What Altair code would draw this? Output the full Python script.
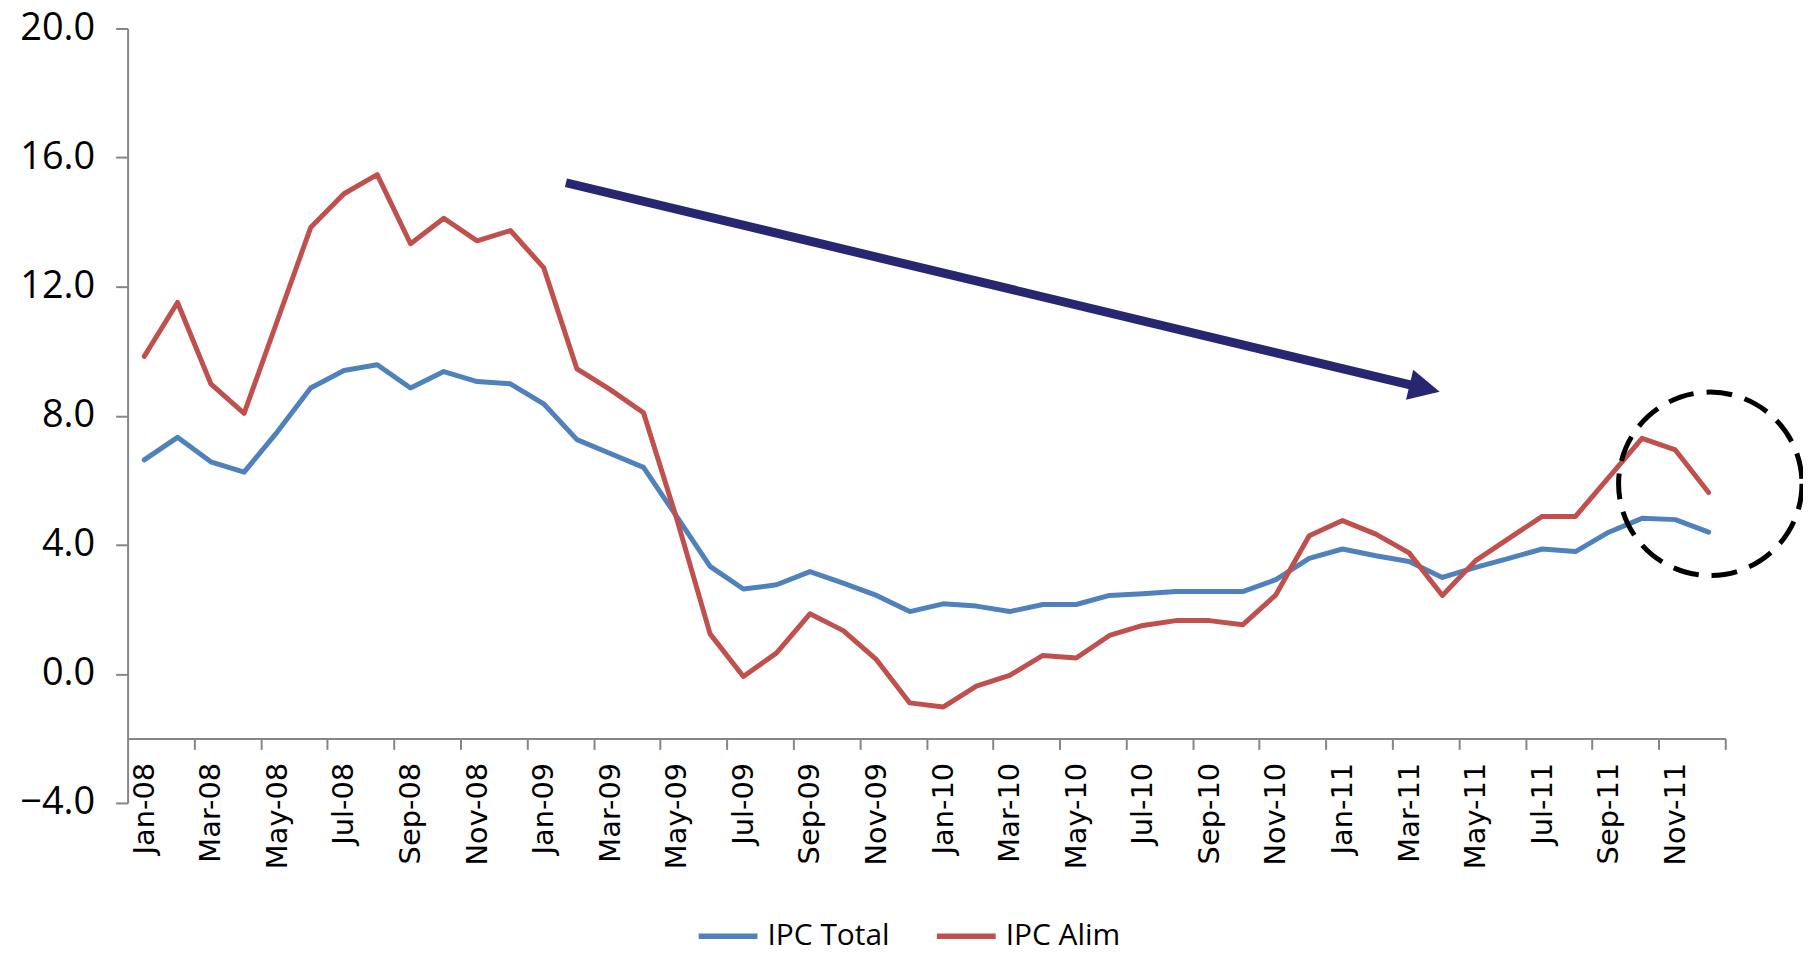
import json
import altair as alt
import pandas as pd

# ---------------- data ----------------
months = [
    "Jan-08", "Feb-08", "Mar-08", "Apr-08", "May-08", "Jun-08", "Jul-08", "Aug-08", "Sep-08", "Oct-08", "Nov-08", "Dec-08",
    "Jan-09", "Feb-09", "Mar-09", "Apr-09", "May-09", "Jun-09", "Jul-09", "Aug-09", "Sep-09", "Oct-09", "Nov-09", "Dec-09",
    "Jan-10", "Feb-10", "Mar-10", "Apr-10", "May-10", "Jun-10", "Jul-10", "Aug-10", "Sep-10", "Oct-10", "Nov-10", "Dec-10",
    "Jan-11", "Feb-11", "Mar-11", "Apr-11", "May-11", "Jun-11", "Jul-11", "Aug-11", "Sep-11", "Oct-11", "Nov-11", "Dec-11",
]
ipc_total = [
    6.63, 7.33, 6.57, 6.25, 7.50, 8.86, 9.40, 9.58, 8.86, 9.37, 9.06, 8.99,
    8.37, 7.26, 6.83, 6.40, 4.87, 3.33, 2.63, 2.76, 3.17, 2.81, 2.43, 1.93,
    2.17, 2.10, 1.93, 2.15, 2.15, 2.43, 2.48, 2.55, 2.55, 2.55, 2.92, 3.58,
    3.87, 3.66, 3.48, 2.99, 3.30, 3.58, 3.87, 3.79, 4.39, 4.82, 4.78, 4.39,
]
ipc_alim = [
    9.84, 11.51, 8.99, 8.07, 10.95, 13.83, 14.88, 15.47, 13.33, 14.12, 13.42, 13.74,
    12.59, 9.45, 8.81, 8.09, 4.80, 1.24, -0.08, 0.65, 1.86, 1.34, 0.44, -0.90,
    -1.03, -0.38, -0.05, 0.57, 0.49, 1.19, 1.50, 1.65, 1.65, 1.52, 2.45, 4.28,
    4.75, 4.33, 3.75, 2.43, 3.51, 4.20, 4.88, 4.88, 6.09, 7.30, 6.94, 5.62,
]
series_names = ["IPC Total", "IPC Alim"]
series_colors = ["#4F81BD", "#C0504D"]
y_ticks = [-4, 0, 4, 8, 12, 16, 20]

# annotation positions (in data units: month index, percent)
arrow_shaft_x = [12.67, 38.10]
arrow_shaft_y = [15.22, 8.94]
arrow_tip_x = [38.92]
arrow_tip_y = [8.74]
circle_x = [47.05]
circle_y = [5.89]

# ---------------- tables ----------------
rows = []
for i, m in enumerate(months):
    rows.append({"idx": i, "month": m, "series": series_names[0], "value": ipc_total[i]})
for i, m in enumerate(months):
    rows.append({"idx": i, "month": m, "series": series_names[1], "value": ipc_alim[i]})
df = pd.DataFrame(rows)

shaft_df = pd.DataFrame({"x": [arrow_shaft_x[0]], "y": [arrow_shaft_y[0]],
                         "x2": [arrow_shaft_x[1]], "y2": [arrow_shaft_y[1]]})
tip_df = pd.DataFrame({"x": arrow_tip_x, "y": arrow_tip_y})
circle_df = pd.DataFrame({"x": circle_x, "y": circle_y})

# ---------------- scales & axes ----------------
W, H = 1603, 777
AXIS_GREY = "#868686"
ARROW = "#262671"

x_scale = alt.Scale(domain=[-0.5, len(months) - 0.5], nice=False, zero=False)
y_scale = alt.Scale(domain=[-4, 20], nice=False, zero=False)

label_values = list(range(0, len(months), 2))
tick_values = [i + 1.5 for i in range(0, len(months) - 1, 2)]
axis_values = sorted(label_values + tick_values)
label_expr = "datum.value % 1 == 0 ? " + json.dumps(months) + "[datum.value] : ''"

x_axis = alt.Axis(
    values=axis_values, labelExpr=label_expr, labelAngle=-90,
    labelFont="DejaVu Sans", labelFontSize=29, labelColor="black",
    labelPadding=13, labelOverlap=False, labelFlush=False, labelBound=False,
    tickSize=11, tickWidth=2, tickColor=AXIS_GREY,
    tickOpacity={"condition": {"test": "datum.value % 1 != 0", "value": 1}, "value": 0},
    domainColor=AXIS_GREY, domainWidth=2, grid=False, title=None,
    offset=-64.75,
)
y_axis = alt.Axis(
    values=y_ticks, format=".1f", labelFont="Open Sans", labelFontSize=38,
    labelColor="black", labelPadding=21, tickSize=12, tickWidth=2,
    tickColor=AXIS_GREY, domainColor=AXIS_GREY, domainWidth=2, grid=False,
    title=None,
)

# ---------------- layers ----------------
lines = alt.Chart(df).mark_line(strokeWidth=5, strokeJoin="round", strokeCap="round").encode(
    x=alt.X("idx:Q", scale=x_scale, axis=x_axis),
    y=alt.Y("value:Q", scale=y_scale, axis=y_axis),
    color=alt.Color(
        "series:N",
        scale=alt.Scale(domain=series_names, range=series_colors),
        legend=alt.Legend(
            title=None, orient="none", legendX=570, legendY=878,
            direction="horizontal", symbolType="stroke", symbolSize=3481,
            symbolStrokeWidth=5.5, labelFont="Open Sans", labelFontSize=30,
            labelColor="black", labelOffset=7, columnPadding=36, padding=0,
        ),
    ),
    detail="series:N",
)

shaft = alt.Chart(shaft_df).mark_rule(color=ARROW, strokeWidth=9).encode(
    x=alt.X("x:Q", scale=x_scale, axis=x_axis),
    y=alt.Y("y:Q", scale=y_scale, axis=y_axis),
    x2="x2:Q",
    y2="y2:Q",
)

head = alt.Chart(tip_df).mark_point(
    shape="M-2,-1L0,0L-2,1Z", size=961, filled=True, color=ARROW,
    opacity=1, angle=13.46, strokeWidth=0,
).encode(
    x=alt.X("x:Q", scale=x_scale, axis=x_axis),
    y=alt.Y("y:Q", scale=y_scale, axis=y_axis),
)

circle = alt.Chart(circle_df).mark_point(
    shape="circle", size=33856, filled=False, color="black",
    strokeWidth=5, strokeDash=[26, 13], opacity=1,
).encode(
    x=alt.X("x:Q", scale=x_scale, axis=x_axis),
    y=alt.Y("y:Q", scale=y_scale, axis=y_axis),
)

chart = alt.layer(lines, shaft, head, circle).properties(
    width=W, height=H,
    padding={"left": 120, "top": 19, "right": 78, "bottom": 151},
    autosize=alt.AutoSizeParams(type="none"),
    background="white",
).configure_view(stroke=None)

chart.save("out.html", embed_options={"renderer": "svg", "actions": False})
